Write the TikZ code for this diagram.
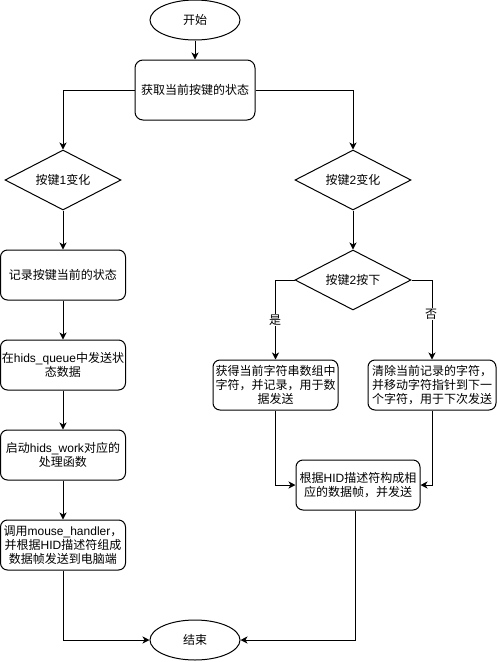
\documentclass[tikz,border=0pt]{standalone}
\usepackage{fontspec}
\setmainfont{Noto Sans CJK SC}
\newfontfamily\latf{Liberation Sans}
\newcommand\LT[1]{{\latf #1}}
\usetikzlibrary{shapes.geometric,arrows.meta,calc}
\begin{document}
\begin{tikzpicture}[x=1pt,y=-1pt,
  every node/.style={font=\fontsize{12}{14}\selectfont, inner sep=0pt, align=center},
  box/.style={draw, rounded corners=7pt, line width=1pt, minimum width=125pt, minimum height=50pt},
  term/.style={draw, ellipse, line width=1pt, minimum width=90pt, minimum height=40pt},
  dec/.style={draw, diamond, shape aspect=2, line width=1pt, minimum width=116pt, minimum height=60pt},
  arr/.style={-{Stealth[length=7pt,width=7pt,inset=2pt]}, line width=1pt},
  lbl/.style={fill=white, inner sep=1pt}]
\useasboundingbox (0,0) rectangle (497,662);
\node[term] (start) at (195,20) {开始};
\node[box, minimum width=120pt, minimum height=60pt, rounded corners=8pt] (get) at (195,90) {获取当前按键的状态};
\node[dec] (d1) at (63,180) {按键\LT{1}变化};
\node[dec] (d2) at (353,180) {按键\LT{2}变化};
\node[box] (r1) at (63,275) {记录按键当前的状态};
\node[box] (r2) at (63,365) {在\LT{hids\_queue}中发送状\\态数据};
\node[box] (r3) at (63,455) {启动\LT{hids\_work}对应的\\处理函数};
\node[box] (r4) at (63,545) {调用\LT{mouse\_handler}，\\并根据\LT{HID}描述符组成\\数据帧发送到电脑端};
\node[term] (end) at (195,640) {结束};
\node[dec] (d3) at (353,280) {按键\LT{2}按下};
\node[box] (b1) at (275.5,385) {获得当前字符串数组中\\字符，并记录，用于数\\据发送};
\node[box, minimum width=128pt] (b2) at (432,385) {清除当前记录的字符，\\并移动字符指针到下一\\个字符，用于下次发送};
\node[box, minimum width=124pt] (b3) at (358,485) {根据\LT{HID}描述符构成相\\应的数据帧，并发送};

\draw[arr] (start) -- (get);
\draw[arr] (get.west) -| (d1.north);
\draw[arr] (get.east) -| (d2.north);
\draw[arr] (d1) -- (r1);
\draw[arr] (r1) -- (r2);
\draw[arr] (r2) -- (r3);
\draw[arr] (r3) -- (r4);
\draw[arr] (r4.south) |- (end.west);
\draw[arr] (d2) -- (d3);
\draw[arr] (d3.west) -| (b1.north);
\draw[arr] (d3.east) -| (b2.north);
\node[lbl] (yes) at (275,320) {是};
\node[lbl] (no) at (431,314) {否};
\draw[arr] (b1.south) |- (b3.west);
\draw[arr] (b2.south) |- (b3.east);
\draw[arr] ([xshift=-3pt]b3.south) |- (end.east);
\end{tikzpicture}
\end{document}
